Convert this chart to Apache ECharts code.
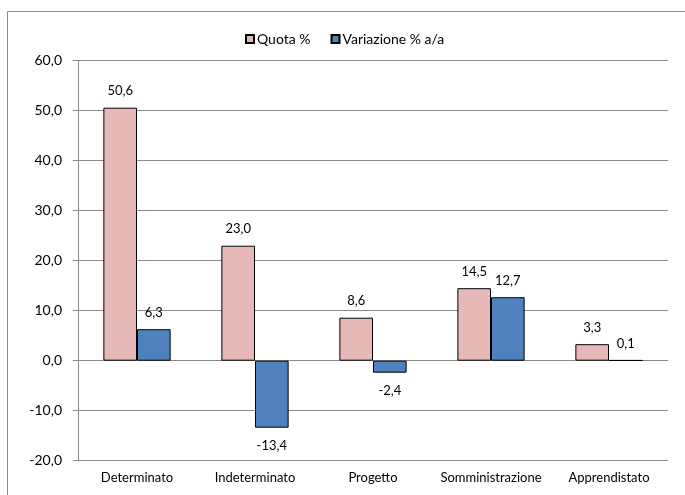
<!DOCTYPE html>
<html>
<head>
<meta charset="utf-8">
<script src="https://cdn.jsdelivr.net/npm/echarts@6/dist/echarts.min.js"></script>
<style>
  html, body { margin: 0; padding: 0; background: #fff; }
  #chart { width: 685px; height: 495px; }
</style>
</head>
<body>
<div id="chart"></div>
<script>
// Contract types and their values
const categories = ['Determinato', 'Indeterminato', 'Progetto', 'Somministrazione', 'Apprendistato'];
const quota = [50.6, 23.0, 8.6, 14.5, 3.3];
const variazione = [6.3, -13.4, -2.4, 12.7, 0.1];
const seriesNames = ['Quota %', 'Variazione % a/a'];

// Italian decimal format: one decimal, comma separator
const fmt = v => Number(v).toFixed(1).replace('.', ',');

const FONT = 'Lato, "Open Sans", sans-serif';

const chart = echarts.init(document.getElementById('chart'), null, { renderer: 'canvas' });

const labelStyle = {
  show: true,
  fontFamily: FONT,
  fontSize: 13,
  color: '#000',
  distance: 10,
  formatter: p => fmt(p.value)
};

chart.setOption({
  animation: false,
  backgroundColor: '#fff',
  graphic: [{
    type: 'rect',
    shape: { x: 7.5, y: 11.5, width: 720, height: 520 },
    style: { fill: 'none', stroke: '#8a8a8a', lineWidth: 1 },
    silent: true,
    z: -1
  }],
  legend: {
    left: 240,
    top: 27,
    icon: 'rect',
    itemWidth: 8,
    itemHeight: 8,
    itemGap: 20,
    textStyle: { fontFamily: FONT, fontSize: 14, color: '#000', padding: [0, 0, 0, -2] },
    data: seriesNames
  },
  grid: {
    left: 78,
    right: 17,
    top: 60.7,
    bottom: 34.3,
    containLabel: false
  },
  xAxis: {
    type: 'category',
    data: categories,
    axisLine: { show: false },
    axisTick: { show: false },
    axisLabel: {
      fontFamily: FONT,
      fontSize: 13,
      color: '#000',
      margin: 11,
      interval: 0
    }
  },
  yAxis: {
    type: 'value',
    min: -20,
    max: 60,
    interval: 10,
    axisLine: { show: true, lineStyle: { color: '#8a8a8a', width: 1 } },
    axisTick: { show: true, length: 5, lineStyle: { color: '#8a8a8a' } },
    axisLabel: {
      fontFamily: FONT,
      fontSize: 14,
      color: '#000',
      margin: 16,
      formatter: v => fmt(v)
    },
    splitLine: { show: true, lineStyle: { color: '#8a8a8a', width: 1 } }
  },
  series: [
    {
      name: seriesNames[0],
      type: 'bar',
      data: quota,
      barGap: '0%',
      barCategoryGap: '43%',
      itemStyle: { color: '#E6B9B8', borderColor: '#000', borderWidth: 1 },
      label: Object.assign({}, labelStyle, { position: 'top' })
    },
    {
      name: seriesNames[1],
      type: 'bar',
      // Negative values carry their label beneath the bar
      data: variazione.map(v => ({
        value: v,
        label: { position: v < 0 ? 'bottom' : 'top', distance: v < 0 ? 12 : 10 }
      })),
      barGap: '0%',
      barCategoryGap: '43%',
      itemStyle: { color: '#4F81BD', borderColor: '#000', borderWidth: 1 },
      label: Object.assign({}, labelStyle)
    }
  ]
});
</script>
</body>
</html>
